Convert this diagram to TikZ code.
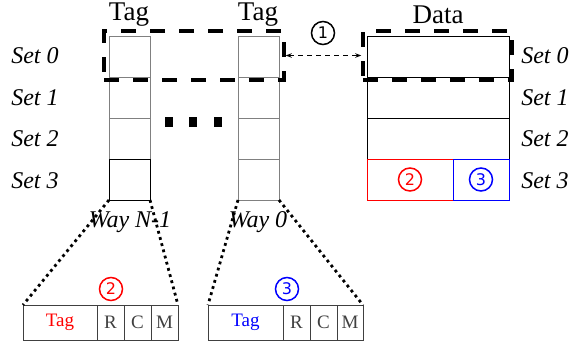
\documentclass[tikz,border=0pt]{standalone}
\usepackage{fontspec}
\setmainfont{Liberation Serif}
\newfontfamily\numfont{DejaVu Sans}
\usetikzlibrary{arrows.meta}

\begin{document}
\begin{tikzpicture}[x=1pt,y=-1pt,
    cell/.style={draw=gray,line width=0.8pt,minimum width=41pt,minimum height=41pt,inner sep=0pt,outer sep=0pt},
    dcell/.style={draw=black,line width=0.8pt,minimum height=41pt,inner sep=0pt,outer sep=0pt},
    field/.style={draw=darkgray,line width=0.8pt,minimum height=35pt,inner sep=0pt,outer sep=0pt,text=darkgray,font=\fontsize{19}{20}\selectfont},
    setlbl/.style={font=\fontsize{24}{26}\selectfont\itshape},
    hdr/.style={font=\fontsize{27}{28}\selectfont},
    num/.style={circle,draw,line width=1.5pt,minimum size=23pt,inner sep=0pt,font=\numfont\fontsize{16}{17}\selectfont},
    sel/.style={draw,dash pattern=on 15pt off 14pt,line width=3.5pt,inner sep=0pt},
    zoomline/.style={line width=2.8pt,dash pattern=on 2.8pt off 3.6pt}]
      \useasboundingbox (0,0) rectangle (571,343);

      % headers
      \node[hdr] (htag1) at (129,15) {Tag};
      \node[hdr] (htag0) at (258,15) {Tag};
      \node[hdr] (hdata) at (438,15) {Data};

      % tag arrays
      \node[cell] (a0) at (129.5,56.5) {};
      \node[cell] (a1) at (129.5,97.5) {};
      \node[cell] (a2) at (129.5,138.5) {};
      \node[cell,draw=black] (a3) at (129.5,179.5) {};

      \node[cell] (b0) at (258.5,56.5) {};
      \node[cell] (b1) at (258.5,97.5) {};
      \node[cell] (b2) at (258.5,138.5) {};
      \node[cell] (b3) at (258.5,179.5) {};

      % data array
      \node[dcell,minimum width=142pt] (d0) at (438,56.5) {};
      \node[dcell,minimum width=142pt] (d1) at (438,97.5) {};
      \node[dcell,minimum width=142pt] (d2) at (438,138.5) {};
      \node[dcell,draw=red,minimum width=86pt] (d3r) at (410,179.5) {};
      \node[dcell,draw=blue,minimum width=56pt] (d3b) at (481,179.5) {};
      \node[num,red] (n2d) at (d3r) {2};
      \node[num,blue] (n3d) at (d3b) {3};

      % set labels
      \node[setlbl] (ls0) at (35,56) {Set 0};
      \node[setlbl] (ls1) at (35,98) {Set 1};
      \node[setlbl] (ls2) at (35,139) {Set 2};
      \node[setlbl] (ls3) at (35,181) {Set 3};
      \node[setlbl] (rs0) at (545,56) {Set 0};
      \node[setlbl] (rs1) at (545,98) {Set 1};
      \node[setlbl] (rs2) at (545,139) {Set 2};
      \node[setlbl] (rs3) at (545,181) {Set 3};

      % ellipsis between ways
      \fill (165,117) rectangle (173,127);
      \fill (189,117) rectangle (197,127);
      \fill (214,117) rectangle (222,127);

      % selected set and lookup
      \node[sel,minimum width=180pt,minimum height=49pt] (seltag) at (194,55.5) {};
      \node[sel,minimum width=149pt,minimum height=49pt] (seldata) at (437.5,55.5) {};
      \draw[line width=1.5pt,dash pattern=on 5pt off 4pt,{Stealth[length=6pt]}-{Stealth[length=6pt]}]
      (seltag.east) -- (seldata.west);
      \node[num,black] (n1) at (323,33) {1};

      % tag entries
      \node[field,minimum width=74pt,text=red] (tagl) at (60,322.5) {Tag};
      \node[field,minimum width=27pt] (rl) at (110.5,322.5) {R};
      \node[field,minimum width=27pt] (cl) at (137.5,322.5) {C};
      \node[field,minimum width=27pt] (ml) at (164.5,322.5) {M};
      \node[field,minimum width=75pt,text=blue] (tagr) at (245.5,322.5) {Tag};
      \node[field,minimum width=27pt] (rr) at (296.5,322.5) {R};
      \node[field,minimum width=27pt] (cr) at (323.5,322.5) {C};
      \node[field,minimum width=26pt] (mr) at (350,322.5) {M};
      \node[num,red] (n2) at (111,289) {2};
      \node[num,blue] (n3) at (287,289) {3};

      \draw[zoomline] (a3.south west) -- (tagl.north west);
      \draw[zoomline] (a3.south east) -- (ml.north east);
      \draw[zoomline] (b3.south west) -- (tagr.north west);
      \draw[zoomline] (b3.south east) -- (mr.north east);

      \node[setlbl] (wayn) at (130,222) {Way N-1};
      \node[setlbl] (way0) at (258,222) {Way 0};
  \end{tikzpicture}
\end{document}
